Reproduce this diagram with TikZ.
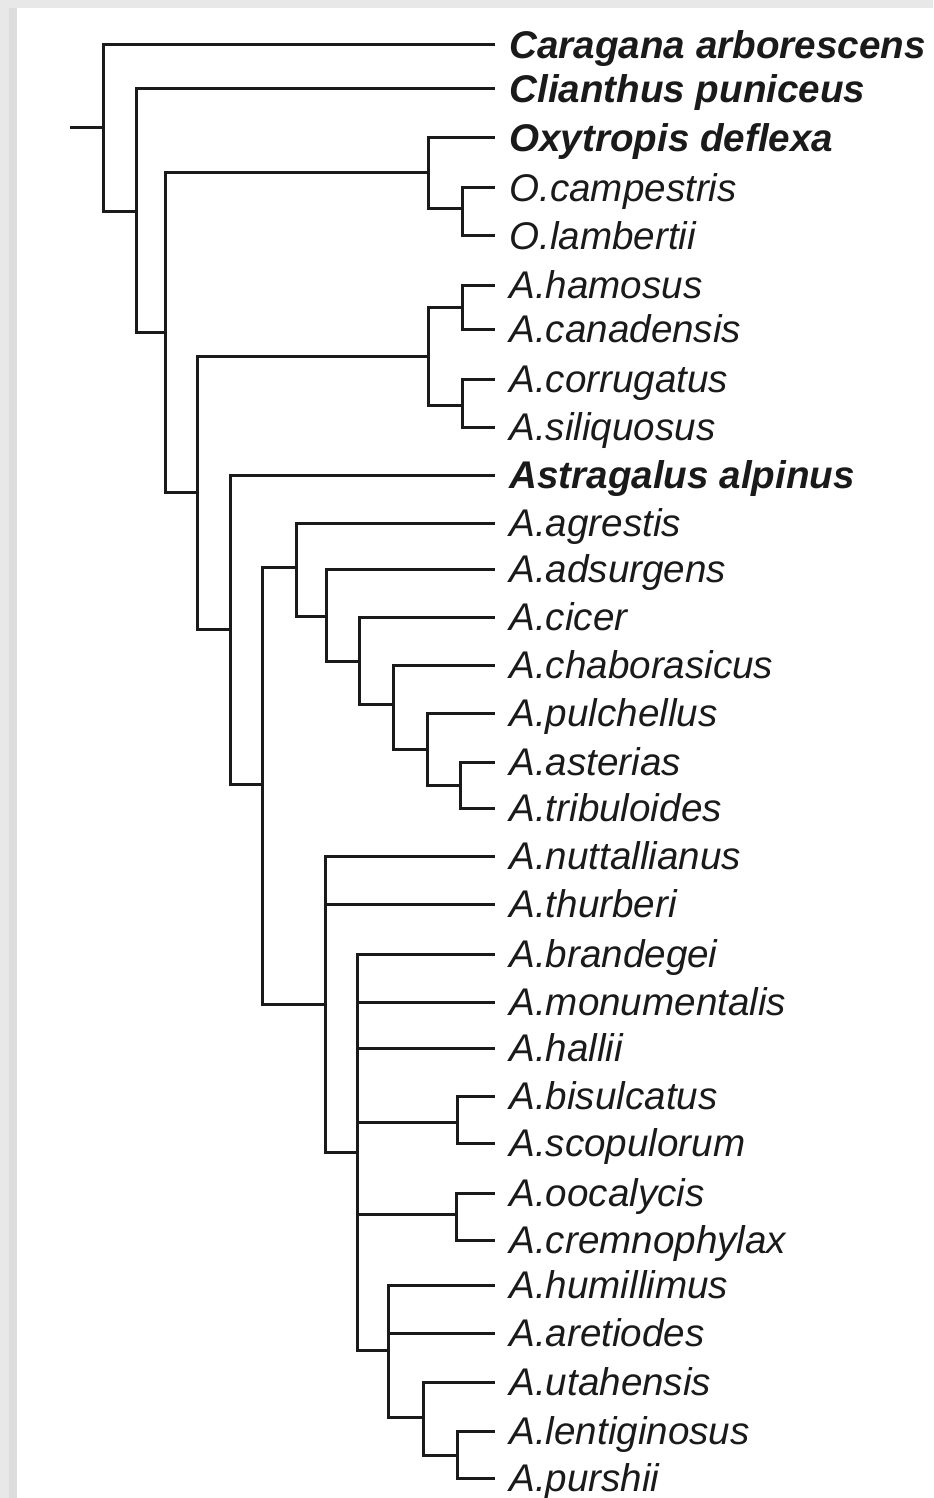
\documentclass[tikz,border=0pt]{standalone}
\usepackage{fontspec}
\setmainfont{Liberation Sans}
\usepackage{tikz}
\definecolor{framegray}{HTML}{E8E8E8}
\definecolor{shadegray}{HTML}{DCDCDC}
\definecolor{inkblack}{HTML}{1A1A1A}
\tikzset{
  branch/.style={draw=inkblack, line width=1.5pt},
  taxon/.style={anchor=west, inner xsep=7pt, inner ysep=0pt, text height=13.8pt, text depth=0pt, text=inkblack, font=\fontsize{19.3}{20}\selectfont\itshape},
  genus/.style={taxon, font=\fontsize{19.3}{20}\selectfont\bfseries\itshape},
}
\begin{document}
\begin{tikzpicture}[x=0.5pt, y=-0.5pt]
  \useasboundingbox (0,0) rectangle (933,1498);
  \fill[framegray] (0,0) rectangle (933,1498);
  \fill[shadegray] (9,8) rectangle (17,1498);
  \fill[white] (17,8) rectangle (933,1498);

  \node[genus] (carag) at (495,45) {Caragana arborescens};
  \node[genus] (clian) at (495,89) {Clianthus puniceus};
  \node[genus] (oxdef) at (495,138) {Oxytropis deflexa};
  \node[taxon] (ocamp) at (495,188) {O.campestris};
  \node[taxon] (olamb) at (495,236) {O.lambertii};
  \node[taxon] (hamos) at (495,285) {A.hamosus};
  \node[taxon] (canad) at (495,329) {A.canadensis};
  \node[taxon] (corru) at (495,379) {A.corrugatus};
  \node[taxon] (siliq) at (495,427) {A.siliquosus};
  \node[genus] (alpin) at (495,475) {Astragalus alpinus};
  \node[taxon] (agres) at (495,523) {A.agrestis};
  \node[taxon] (adsur) at (495,569) {A.adsurgens};
  \node[taxon] (cicer) at (495,617) {A.cicer};
  \node[taxon] (chabo) at (495,665) {A.chaborasicus};
  \node[taxon] (pulch) at (495,713) {A.pulchellus};
  \node[taxon] (aster) at (495,762) {A.asterias};
  \node[taxon] (tribu) at (495,808) {A.tribuloides};
  \node[taxon] (nutta) at (495,856) {A.nuttallianus};
  \node[taxon] (thurb) at (495,904) {A.thurberi};
  \node[taxon] (brand) at (495,954) {A.brandegei};
  \node[taxon] (monum) at (495,1002) {A.monumentalis};
  \node[taxon] (halli) at (495,1048) {A.hallii};
  \node[taxon] (bisul) at (495,1096) {A.bisulcatus};
  \node[taxon] (scopu) at (495,1143) {A.scopulorum};
  \node[taxon] (oocal) at (495,1193) {A.oocalycis};
  \node[taxon] (cremn) at (495,1240) {A.cremnophylax};
  \node[taxon] (humil) at (495,1285) {A.humillimus};
  \node[taxon] (areti) at (495,1333) {A.aretiodes};
  \node[taxon] (utahe) at (495,1382) {A.utahensis};
  \node[taxon] (lenti) at (495,1431) {A.lentiginosus};
  \node[taxon] (pursh) at (495,1478) {A.purshii};

  \coordinate (root) at (70,128);
  \coordinate (n1) at (103,128);
  \coordinate (n2) at (136,212);
  \coordinate (n3) at (165,332);
  \coordinate (nox) at (428,173);
  \coordinate (nox2) at (462,209);
  \coordinate (n4) at (197,492);
  \coordinate (nham) at (428,356);
  \coordinate (nham1) at (462,307);
  \coordinate (nham2) at (462,405);
  \coordinate (n5) at (230,629);
  \coordinate (n6) at (262,784);
  \coordinate (n7) at (296,567);
  \coordinate (n8) at (326,616);
  \coordinate (n9) at (359,661);
  \coordinate (n10) at (393,704);
  \coordinate (n11) at (427,749);
  \coordinate (n12) at (460,785);
  \coordinate (n13) at (325,1004);
  \coordinate (n14) at (357,1152);
  \coordinate (nbis) at (457,1122);
  \coordinate (noo) at (456,1214);
  \coordinate (n15) at (388,1350);
  \coordinate (n16) at (423,1417);
  \coordinate (n17) at (457,1455);

  \draw[branch] (root) -- (n1);
  \draw[branch] (n1) |- (carag.west) (n1) |- (n2);
  \draw[branch] (n2) |- (clian.west) (n2) |- (n3);
  \draw[branch] (n3) |- (nox) (n3) |- (n4);
  \draw[branch] (nox) |- (oxdef.west) (nox) |- (nox2);
  \draw[branch] (nox2) |- (ocamp.west) (nox2) |- (olamb.west);
  \draw[branch] (n4) |- (nham) (n4) |- (n5);
  \draw[branch] (nham) |- (nham1) (nham) |- (nham2);
  \draw[branch] (nham1) |- (hamos.west) (nham1) |- (canad.west);
  \draw[branch] (nham2) |- (corru.west) (nham2) |- (siliq.west);
  \draw[branch] (n5) |- (alpin.west) (n5) |- (n6);
  \draw[branch] (n6) |- (n7) (n6) |- (n13);
  \draw[branch] (n7) |- (agres.west) (n7) |- (n8);
  \draw[branch] (n8) |- (adsur.west) (n8) |- (n9);
  \draw[branch] (n9) |- (cicer.west) (n9) |- (n10);
  \draw[branch] (n10) |- (chabo.west) (n10) |- (n11);
  \draw[branch] (n11) |- (pulch.west) (n11) |- (n12);
  \draw[branch] (n12) |- (aster.west) (n12) |- (tribu.west);
  \draw[branch] (n13) |- (nutta.west) (n13) |- (thurb.west) (n13) |- (n14);
  \draw[branch] (n14) |- (brand.west) (n14) |- (monum.west) (n14) |- (halli.west);
  \draw[branch] (n14) |- (nbis) (n14) |- (noo) (n14) |- (n15);
  \draw[branch] (nbis) |- (bisul.west) (nbis) |- (scopu.west);
  \draw[branch] (noo) |- (oocal.west) (noo) |- (cremn.west);
  \draw[branch] (n15) |- (humil.west) (n15) |- (areti.west) (n15) |- (n16);
  \draw[branch] (n16) |- (utahe.west) (n16) |- (n17);
  \draw[branch] (n17) |- (lenti.west) (n17) |- (pursh.west);
\end{tikzpicture}
\end{document}
